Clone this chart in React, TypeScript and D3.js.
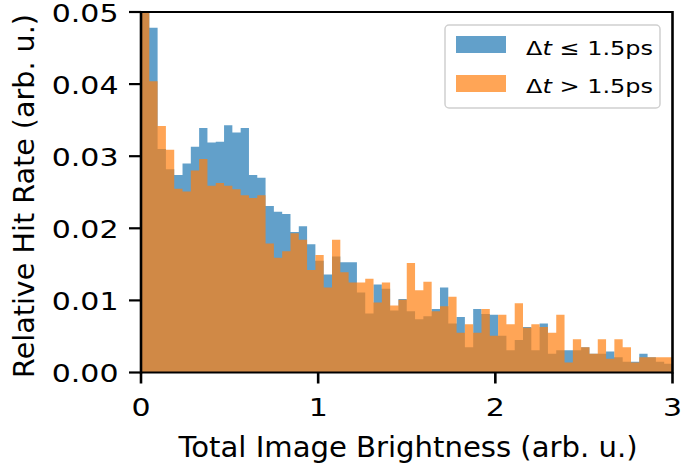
import React from "react";
import * as d3 from "d3";

const X_TICKS = [0, 1, 2, 3];
const Y_TICKS = [0, 0.01, 0.02, 0.03, 0.04, 0.05];
const BIN_MIN = 0;
const BIN_MAX = 3;

const blueVals = [
  0.052, 0.0478, 0.031, 0.0282, 0.0274, 0.029, 0.0313, 0.0339, 0.0319, 0.032, 0.0343, 0.0333, 0.0339, 0.0274, 0.027,
  0.0231, 0.0223, 0.022, 0.0195, 0.0203, 0.0178, 0.0155, 0.0136, 0.0161, 0.0153, 0.0153, 0.0111, 0.0082, 0.0122, 0.0116, 0.0086,
  0.0102, 0.0085, 0.0074, 0.0078, 0.0088, 0.0118, 0.0068, 0.0077, 0.0035, 0.0088, 0.0081, 0.008, 0.0051, 0.0031, 0.0045,
  0.0063, 0.0031, 0.0068, 0.0026, 0.0031, 0.0031, 0.0031, 0.0035, 0.0026, 0.0026, 0.0029, 0.0021, 0.0015, 0.0015, 0.0026, 0.0021, 0.0015, 0.0012,
];

const orangeVals = [
  0.056, 0.0404, 0.0342, 0.0309, 0.0255, 0.0251, 0.028, 0.0296, 0.0259, 0.0263, 0.0259, 0.0254, 0.0246, 0.0242, 0.0246,
  0.0179, 0.0159, 0.0168, 0.0193, 0.0184, 0.0142, 0.0163, 0.0118, 0.0184, 0.0139, 0.0125, 0.0125, 0.013, 0.0097, 0.0125, 0.0093,
  0.0101, 0.0152, 0.0114, 0.0126, 0.0085, 0.0092, 0.0105, 0.0055, 0.0067, 0.0055, 0.0088, 0.0051, 0.008, 0.0067, 0.0096,
  0.0062, 0.0067, 0.0063, 0.0055, 0.008, 0.0014, 0.0046, 0.0035, 0.0026, 0.0046, 0.0019, 0.0046, 0.0035, 0.0014, 0.0021, 0.0021, 0.0021, 0.0021,
];

const SERIES = [
  { name: "le", values: blueVals, color: "#1f77b4" },
  { name: "gt", values: orangeVals, color: "#ff7f0e" },
];

const W = 682;
const H = 470;
const L = 141;
const R = 672.5;
const T = 12;
const B = 372.5;
const SX = 1.2;
const FONT = "DejaVu Sans";

export default function App() {
  const x = d3.scaleLinear().domain([0, 3]).range([L, R]);
  const y = d3.scaleLinear().domain([0, 0.05]).range([B, T]);

  const stepPath = (vals: number[]) => {
    const n = vals.length;
    const w = (BIN_MAX - BIN_MIN) / n;
    const pts: [number, number][] = [[BIN_MIN, 0]];
    vals.forEach((v, i) => {
      pts.push([BIN_MIN + i * w, v]);
      pts.push([BIN_MIN + (i + 1) * w, v]);
    });
    pts.push([BIN_MAX, 0]);
    const line = d3.line<[number, number]>().x((d) => x(d[0])).y((d) => y(d[1]));
    return line(pts) + "Z";
  };

  const tick = (tx: number, ty: number, s: string, anchor: string) => (
    <text
      transform={`translate(${tx},${ty}) scale(${SX},1)`}
      fontFamily={FONT}
      fontSize={25}
      textAnchor={anchor}
      fill="#000"
    >
      {s}
    </text>
  );

  return (
    <svg width={W} height={H} style={{ position: "absolute", left: 0, top: 0 }}>
      <rect x={0} y={0} width={W} height={H} fill="#fff" />
      <defs>
        <clipPath id="plotclip">
          <rect x={L} y={T} width={R - L} height={B - T} />
        </clipPath>
      </defs>
      <g clipPath="url(#plotclip)">
        {SERIES.map((s) => (
          <path key={s.name} d={stepPath(s.values)} fill={s.color} fillOpacity={0.7} stroke="none" />
        ))}
      </g>
      {/* spines */}
      <line x1={L} x2={R} y1={T} y2={T} stroke="#000" strokeWidth={2.2} />
      <line x1={L} x2={R} y1={B} y2={B} stroke="#000" strokeWidth={2.2} />
      <line x1={L} x2={L} y1={T - 1.1} y2={B + 1.1} stroke="#000" strokeWidth={2.6} />
      <line x1={R} x2={R} y1={T - 1.1} y2={B + 1.1} stroke="#000" strokeWidth={2.6} />
      {/* x ticks */}
      {X_TICKS.map((t) => (
        <g key={"xt" + t}>
          <line x1={x(t)} x2={x(t)} y1={B} y2={B + 11} stroke="#000" strokeWidth={2.6} />
          {tick(x(t), 415.5, String(t), "middle")}
        </g>
      ))}
      {/* y ticks */}
      {Y_TICKS.map((t) => (
        <g key={"yt" + t}>
          <line x1={L - 12} x2={L} y1={y(t)} y2={y(t)} stroke="#000" strokeWidth={2.2} />
          {tick(118.5, y(t) + 9.8, t.toFixed(2), "end")}
        </g>
      ))}
      <text
        transform={`translate(408,457) scale(1.04,1)`}
        fontFamily={FONT}
        fontSize={28}
        textAnchor="middle"
        fill="#000"
      >
        Total Image Brightness (arb. u.)
      </text>
      <text
        transform={`translate(33.5,196) rotate(-90) scale(1.04,1)`}
        fontFamily={FONT}
        fontSize={27.5}
        textAnchor="middle"
        fill="#000"
      >
        Relative Hit Rate (arb. u.)
      </text>
      {/* legend */}
      <rect x={445} y={25} width={215} height={83} rx={4} fill="#fff" fillOpacity={0.8} stroke="#d0d0d0" strokeWidth={1.5} />
      {SERIES.map((s, i) => (
        <g key={"lg" + s.name}>
          <rect x={456} y={36 + i * 39} width={50} height={17} fill={s.color} fillOpacity={0.7} />
          <text
            transform={`translate(526,${55 + i * 38}) scale(${SX},1)`}
            fontFamily={FONT}
            fontSize={20}
            fill="#000"
          >
            Δ<tspan fontStyle="italic">t</tspan>
            {i === 0 ? " ≤ 1.5ps" : " > 1.5ps"}
          </text>
        </g>
      ))}
    </svg>
  );
}
